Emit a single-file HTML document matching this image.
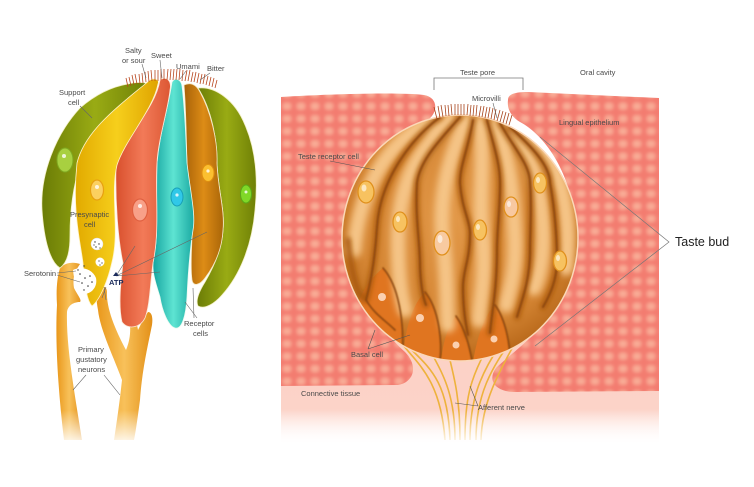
<!DOCTYPE html>
<html><head><meta charset="utf-8"><style>
html,body{margin:0;padding:0;background:#fff;width:754px;height:487px;overflow:hidden}
svg{display:block}
text{font-family:"Liberation Sans",sans-serif;fill:#4a4a4a;font-size:7.5px}
</style></head><body>
<svg width="754" height="487" viewBox="0 0 754 487" xmlns="http://www.w3.org/2000/svg">
<defs>
  <pattern id="tis" width="14" height="12.5" patternUnits="userSpaceOnUse">
    <rect width="14" height="12.5" fill="#f37b70"/>
    <rect x="2" y="2" width="10" height="8.5" rx="4" fill="#f79d8a"/>
    <rect x="4" y="3.8" width="6" height="5" rx="2.5" fill="#f9ad96"/>
  </pattern>
  <clipPath id="lblock"><path d="M281 97 C330 94 400 92 424 95 C436 97 438 108 432 116 C420 130 370 170 360 240 C355 290 380 330 405 352 C418 365 415 382 398 385 L281 386 Z"/></clipPath>
  <clipPath id="rblock"><path d="M508 100 C508 94 515 92 528 92 L659 98 L659 391 L515 392 C495 392 487 380 496 368 C520 345 565 320 575 250 C580 180 545 135 520 122 C510 116 507 108 508 100 Z"/></clipPath>
  <linearGradient id="conn" x1="0" y1="0" x2="0" y2="1">
    <stop offset="0" stop-color="#fcd0c4"/><stop offset="0.75" stop-color="#fcd3c8"/><stop offset="1" stop-color="#fff"/>
  </linearGradient>
  <linearGradient id="fade" x1="0" y1="0" x2="0" y2="1">
    <stop offset="0" stop-color="#fff" stop-opacity="0"/><stop offset="1" stop-color="#fff" stop-opacity="1"/>
  </linearGradient>
  <radialGradient id="bud" cx="0.5" cy="0.42" r="0.58">
    <stop offset="0" stop-color="#e29848"/><stop offset="0.75" stop-color="#d58634"/><stop offset="1" stop-color="#b8681a"/>
  </radialGradient>
  <clipPath id="budclip"><ellipse cx="460" cy="238" rx="118" ry="123"/></clipPath>
  <filter id="blur3" x="-20%" y="-20%" width="140%" height="140%"><feGaussianBlur stdDeviation="3.5"/></filter>
  <filter id="blur1" x="-20%" y="-20%" width="140%" height="140%"><feGaussianBlur stdDeviation="0.7"/></filter>
  <filter id="blur2" x="-20%" y="-20%" width="140%" height="140%"><feGaussianBlur stdDeviation="2.5"/></filter>
  <filter id="tblur" x="-5%" y="-5%" width="110%" height="110%"><feGaussianBlur stdDeviation="1.5"/></filter>
  <linearGradient id="gG" x1="0" y1="0" x2="1" y2="0">
    <stop offset="0" stop-color="#6b7c06"/><stop offset="0.5" stop-color="#99ab14"/><stop offset="1" stop-color="#6f8006"/>
  </linearGradient>
  <linearGradient id="gY" x1="0" y1="0" x2="1" y2="0">
    <stop offset="0" stop-color="#e2aa00"/><stop offset="0.5" stop-color="#f6cf1c"/><stop offset="1" stop-color="#dfa400"/>
  </linearGradient>
  <linearGradient id="gR" x1="0" y1="0" x2="1" y2="0">
    <stop offset="0" stop-color="#d9502d"/><stop offset="0.5" stop-color="#f27a58"/><stop offset="1" stop-color="#dc5733"/>
  </linearGradient>
  <linearGradient id="gT" x1="0" y1="0" x2="1" y2="0">
    <stop offset="0" stop-color="#15a4a0"/><stop offset="0.5" stop-color="#5ee4d2"/><stop offset="1" stop-color="#1aa9a2"/>
  </linearGradient>
  <linearGradient id="gB" x1="0" y1="0" x2="1" y2="0">
    <stop offset="0" stop-color="#a86208"/><stop offset="0.5" stop-color="#dd8c16"/><stop offset="1" stop-color="#a96508"/>
  </linearGradient>
  <linearGradient id="gN" x1="0" y1="0" x2="1" y2="0">
    <stop offset="0" stop-color="#e9971a"/><stop offset="0.5" stop-color="#f8c15a"/><stop offset="1" stop-color="#e39018"/>
  </linearGradient>
</defs>

<!-- ============ RIGHT PANEL ============ -->
<rect x="281" y="300" width="378" height="145" fill="url(#conn)"/>
<g clip-path="url(#lblock)"><rect x="275" y="88" width="170" height="305" fill="url(#tis)" filter="url(#tblur)"/></g>
<g clip-path="url(#rblock)"><rect x="480" y="86" width="185" height="312" fill="url(#tis)" filter="url(#tblur)"/></g>

<g stroke="#eeb23c" stroke-width="1.6" fill="none">
  <path d="M392 330 C410 360 440 370 445 440"/>
  <path d="M402 340 C425 365 448 375 450 440"/>
  <path d="M430 350 C440 370 455 390 455 440"/>
  <path d="M448 352 C455 380 460 400 460 440"/>
  <path d="M485 352 C470 380 465 400 465 440"/>
  <path d="M500 345 C480 375 470 400 470 440"/>
  <path d="M515 335 C490 370 476 395 476 440"/>
  <path d="M525 325 C500 370 482 400 481 440"/>
</g>

<ellipse cx="460" cy="238" rx="118" ry="123" fill="url(#bud)"/>
<g clip-path="url(#budclip)">
  <g fill="#e07520">
    <path d="M352 330 C355 300 368 280 383 268 C398 285 405 320 402 368 L352 368 Z"/>
    <path d="M402 368 C404 330 412 305 425 292 C440 310 442 345 440 368 Z"/>
    <path d="M440 368 C442 345 448 325 456 316 C466 330 470 350 472 368 Z"/>
    <path d="M472 368 C476 340 484 315 495 305 C506 320 510 345 510 368 Z"/>
  </g>
  <g stroke="#f5c486" stroke-width="15" fill="none" stroke-linecap="round" filter="url(#blur3)">
    <path d="M430 122 C395 137 360 180 354 250"/>
    <path d="M450 120 C420 150 398 180 398 240 C398 280 402 300 405 310"/>
    <path d="M466 122 C452 150 438 190 443 240 C448 280 446 315 448 325"/>
    <path d="M480 124 C485 160 478 200 483 240 C486 280 479 305 479 320"/>
    <path d="M494 126 C512 160 513 200 515 240 C516 275 508 295 506 305"/>
    <path d="M506 130 C530 150 541 180 543 230 C544 260 538 280 534 288"/>
    <path d="M524 132 C560 155 572 210 566 268"/>
  </g>
  <g stroke="#a85810" stroke-width="6" fill="none" stroke-linecap="round" filter="url(#blur2)" opacity="0.9">
    <path d="M440 117 C410 140 380 180 377 227 C375 260 370 285 366 300"/>
    <path d="M460 117 C440 140 420 160 417 183 C415 220 420 240 420 267 C421 290 424 300 426 305"/>
    <path d="M473 120 C468 150 460 165 460 183 C462 210 470 220 470 233 C470 260 463 270 463 287 C463 310 466 325 468 335"/>
    <path d="M487 120 C495 150 500 165 500 183 C500 210 497 230 497 250 C497 290 492 310 490 333"/>
    <path d="M500 123 C515 150 530 165 530 183 C532 210 530 230 530 250 C530 280 522 300 517 317"/>
    <path d="M510 127 C530 145 550 165 550 183 C555 210 557 240 557 260 C557 280 550 295 543 307"/>
    <path d="M348 240 C352 280 360 300 366 300"/>
  </g>
  <g stroke="#8a450a" stroke-width="1.6" fill="none" stroke-linecap="round" filter="url(#blur1)">
    <path d="M440 117 C410 140 380 180 377 227 C375 260 370 285 366 300"/>
    <path d="M460 117 C440 140 420 160 417 183 C415 220 420 240 420 267 C421 290 424 300 426 305"/>
    <path d="M473 120 C468 150 460 165 460 183 C462 210 470 220 470 233 C470 260 463 270 463 287 C463 310 466 325 468 335"/>
    <path d="M487 120 C495 150 500 165 500 183 C500 210 497 230 497 250 C497 290 492 310 490 333"/>
    <path d="M500 123 C515 150 530 165 530 183 C532 210 530 230 530 250 C530 280 522 300 517 317"/>
    <path d="M510 127 C530 145 550 165 550 183 C555 210 557 240 557 260 C557 280 550 295 543 307"/>
    <path d="M366 300 C375 315 385 320 395 330"/>
    <path d="M383 268 C398 285 405 320 402 360"/>
    <path d="M425 292 C440 310 442 345 440 360"/>
    <path d="M456 316 C466 330 470 350 472 360"/>
    <path d="M495 305 C506 320 510 345 510 360"/>
  </g>
  <g fill="#f7c260" stroke="#e0901c" stroke-width="1.3">
    <ellipse cx="366" cy="192" rx="8" ry="11"/>
    <ellipse cx="400" cy="222" rx="7" ry="10"/>
    <ellipse cx="442" cy="243" rx="8" ry="12" fill="#f8caa0"/>
    <ellipse cx="480" cy="230" rx="6.5" ry="10"/>
    <ellipse cx="511" cy="207" rx="7" ry="10" fill="#f8c8a0"/>
    <ellipse cx="540" cy="183" rx="6.5" ry="10"/>
    <ellipse cx="560" cy="261" rx="6.5" ry="10"/>
  </g>
  <g fill="#fff" opacity="0.6">
    <ellipse cx="364" cy="188" rx="2.5" ry="3.5"/><ellipse cx="398" cy="219" rx="2" ry="3"/><ellipse cx="440" cy="239" rx="2.5" ry="4"/>
    <ellipse cx="478" cy="227" rx="2" ry="3"/><ellipse cx="509" cy="204" rx="2" ry="3"/><ellipse cx="538" cy="180" rx="2" ry="3"/><ellipse cx="558" cy="258" rx="2" ry="3"/>
  </g>
  <g fill="#fbd0b0">
    <circle cx="382" cy="297" r="4"/><circle cx="420" cy="318" r="4"/>
    <circle cx="456" cy="345" r="3.5"/><circle cx="494" cy="339" r="3.5"/>
  </g>
</g>
<ellipse cx="460" cy="238" rx="118" ry="123" fill="none" stroke="#fbd8b8" stroke-width="1.5"/>

<path stroke="#a8441c" stroke-width="0.8" fill="none" d="M437 119 l-3 -12 M440 118 l-2 -12 M443 117 l-2 -12 M446 116 l-1 -11 M449 116 l-1 -11 M452 115 l-1 -11 M455 115 l0 -11 M458 115 l0 -11 M461 115 l0 -11 M464 115 l0 -11 M467 115 l1 -11 M470 116 l1 -11 M473 116 l1 -11 M476 116 l1 -11 M479 117 l2 -11 M482 117 l2 -11 M485 118 l2 -11 M488 118 l2 -11 M491 119 l2 -11 M494 120 l2 -11 M497 121 l3 -11 M500 122 l3 -11 M503 123 l3 -11 M506 124 l3 -11 M509 125 l3 -10"/>

<path d="M434 90 V78 H523 V90" stroke="#777" stroke-width="0.8" fill="none"/>
<text x="460" y="75">Teste pore</text>
<text x="580" y="75">Oral cavity</text>
<text x="472" y="101">Microvilli</text>
<path d="M493 103 L497 118" stroke="#666" stroke-width="0.6"/>
<text x="559" y="125">Lingual epithelium</text>
<text x="298" y="159">Teste receptor cell</text>
<path d="M330 161 L375 170" stroke="#555" stroke-width="0.6"/>
<text x="675" y="246" style="font-size:12.5px;fill:#222">Taste bud</text>
<path d="M540 137 L669 242 L535 346" stroke="#777" stroke-width="0.7" fill="none"/>
<text x="351" y="357">Basal cell</text>
<path d="M368 349 L375 330 M368 349 L410 335" stroke="#555" stroke-width="0.6" fill="none"/>
<text x="301" y="396">Connective tissue</text>
<text x="478" y="410">Afferent nerve</text>
<path d="M478 406 L455 403 M478 406 L470 386" stroke="#555" stroke-width="0.6" fill="none"/>

<!-- ============ LEFT PANEL ============ -->
<g fill="url(#gN)">
  <path d="M60 268 C66 262 74 262 80 264 C76 270 72 276 74 288 C78 296 82 300 80 302 C74 302 68 305 67 312 C66 345 74 390 82 440 L64 440 C58 390 55 340 57 305 C56 290 57 278 60 268 Z"/>
  <path d="M98 288 C102 285 107 286 107 292 C106 310 118 335 126 350 C130 340 132 330 128 310 C126 300 122 292 123 286 C126 283 130 284 130 290 C132 300 136 318 138 330 C142 322 145 316 148 312 C152 312 153 318 152 325 C148 345 142 370 140 400 C138 415 136 430 134 440 L114 440 C117 420 120 400 122 380 C115 360 100 330 98 310 C96 300 96 292 98 288 Z"/>
</g>

<path d="M128 84 C135 82 145 82 148 84 C125 105 95 130 80 165 C72 190 70 215 70 235 C70 250 68 262 60 268 C50 262 44 240 42 210 C40 175 55 135 80 108 C95 95 110 87 128 84 Z" fill="url(#gG)" stroke="#f4f0c8" stroke-width="0.8"/>
<path d="M198 88 C215 86 235 100 245 125 C256 150 258 180 255 210 C252 245 240 275 222 295 C215 303 205 310 198 306 C195 300 200 290 205 282 C212 270 222 250 223 230 C225 210 218 190 217 163 C217 140 212 110 198 88 Z" fill="url(#gG)" stroke="#f4f0c8" stroke-width="0.8"/>
<path d="M184 85 C190 82 196 84 200 92 C210 110 218 140 217 163 C218 190 225 210 223 230 C222 250 215 265 205 278 C200 285 193 287 192 280 C190 265 192 250 192 230 C190 200 187 180 187 163 C186 130 186 110 184 85 Z" fill="url(#gB)" stroke="#f4e8c8" stroke-width="0.8"/>
<path d="M172 82 C175 77 181 79 182 86 C185 110 186 140 187 163 C190 190 196 215 193 230 C190 250 188 275 187 297 C186 315 182 330 175 328 C168 326 162 310 160 297 C155 280 150 270 155 250 C158 230 156 200 157 163 C160 130 168 110 172 82 Z" fill="url(#gT)" stroke="#eafaf0" stroke-width="0.8"/>
<path d="M160 80 C166 76 172 80 170 90 C168 110 158 140 157 163 C155 195 160 230 153 263 C150 285 150 305 145 318 C140 328 128 330 122 322 C118 305 121 280 123 263 C118 240 115 200 116 165 C125 135 155 110 160 80 Z" fill="url(#gR)" stroke="#fbe8d8" stroke-width="0.8"/>
<path d="M150 80 C154 78 160 79 158 84 C153 110 125 140 117 165 C110 195 120 230 112 262 C108 280 100 300 92 306 C86 300 84 280 83 263 C80 240 72 210 77 163 C85 130 120 105 150 80 Z" fill="url(#gY)" stroke="#fff4c8" stroke-width="0.8"/>

<ellipse cx="65" cy="160" rx="8" ry="12" fill="#a8d040" stroke="#7fa820" stroke-width="1"/>
<ellipse cx="97" cy="190" rx="6.5" ry="10" fill="#fbd060" stroke="#e8a010" stroke-width="1.2"/>
<ellipse cx="140" cy="210" rx="7.5" ry="11" fill="#f8a088" stroke="#e06040" stroke-width="1.2"/>
<ellipse cx="177" cy="197" rx="6" ry="9" fill="#30c8e8" stroke="#18a0b8" stroke-width="1"/>
<ellipse cx="208" cy="173" rx="6" ry="8.5" fill="#fbc030" stroke="#e09010" stroke-width="1"/>
<ellipse cx="246" cy="194" rx="5.5" ry="9" fill="#80d828" stroke="#5aa818" stroke-width="1"/>
<g fill="#fff" opacity="0.8"><circle cx="97" cy="187" r="2"/><circle cx="140" cy="206" r="2"/><circle cx="177" cy="195" r="1.6"/><circle cx="208" cy="171" r="1.6"/><circle cx="246" cy="192" r="1.5"/><circle cx="64" cy="156" r="2"/></g>

<circle cx="97" cy="244" r="6" fill="#fff" stroke="#ddd" stroke-width="0.5"/>
<circle cx="100" cy="262" r="4.5" fill="#fff"/>
<path d="M73 270 C80 266 92 268 96 278 C98 288 90 295 82 294 C78 290 74 282 73 270 Z" fill="#fff"/>
<g fill="#333">
  <circle cx="95" cy="242" r="0.7"/><circle cx="99" cy="244" r="0.7"/><circle cx="96" cy="247" r="0.7"/><circle cx="100" cy="248" r="0.6"/><circle cx="94" cy="245" r="0.6"/>
  <circle cx="99" cy="261" r="0.6"/><circle cx="102" cy="263" r="0.6"/><circle cx="100" cy="265" r="0.6"/>
  <circle cx="80" cy="274" r="0.8"/><circle cx="85" cy="278" r="0.8"/><circle cx="90" cy="276" r="0.8"/><circle cx="82" cy="283" r="0.8"/><circle cx="88" cy="286" r="0.8"/><circle cx="92" cy="282" r="0.8"/><circle cx="84" cy="290" r="0.7"/><circle cx="78" cy="270" r="0.7"/><circle cx="84" cy="266" r="0.7"/>
</g>

<path stroke="#b8461e" stroke-width="0.8" fill="none" d="M128 87 l-2 -9 M131 86 l-2 -9 M134 85 l-2 -10 M137 84 l-2 -10 M140 84 l-1 -10 M143 83 l-1 -10 M146 82 l-1 -10 M149 82 l-1 -11 M152 81 l-1 -11 M155 81 l0 -11 M158 81 l0 -11 M161 80 l0 -11 M164 80 l0 -11 M167 80 l1 -11 M170 80 l1 -11 M173 80 l1 -11 M176 80 l1 -11 M179 80 l1 -11 M182 81 l1 -11 M185 81 l2 -11 M188 81 l2 -11 M191 82 l2 -10 M194 82 l2 -10 M197 83 l2 -10 M200 84 l2 -10 M203 84 l2 -10 M206 85 l2 -9 M209 86 l2 -9 M212 87 l2 -9 M215 88 l2 -8"/>

<text x="125" y="53">Salty</text>
<text x="122" y="63">or sour</text>
<text x="151" y="58">Sweet</text>
<text x="176" y="69">Umami</text>
<text x="207" y="71">Bitter</text>
<text x="59" y="95">Support</text>
<text x="68" y="105">cell</text>
<text x="70" y="217">Presynaptic</text>
<text x="84" y="227">cell</text>
<text x="24" y="276">Serotonin</text>
<text x="109" y="285" style="font-weight:bold;fill:#1a2a5a;font-size:7.5px">ATP</text>
<text x="78" y="352">Primary</text>
<text x="76" y="362">gustatory</text>
<text x="78" y="372">neurons</text>
<text x="184" y="326">Receptor</text>
<text x="193" y="336">cells</text>
<g stroke="#666" stroke-width="0.6" fill="none">
  <path d="M142 64 L146 78"/>
  <path d="M160 60 L162 78"/>
  <path d="M186 71 L180 79"/>
  <path d="M210 73 L200 80"/>
  <path d="M80 106 L92 118"/>
  <path d="M57 273 L76 271 M57 275 L80 282"/>
  <path d="M116 276 L135 246 M116 276 L207 232 M116 276 L160 272"/>
  <path d="M106 287 L102 298 M104 287 L106 300"/>
  <path d="M197 318 L185 302 M194 318 L193 288"/>
  <path d="M86 375 L73 390 M104 375 L120 395"/>
</g>
<path d="M113 276 l3 -4 l3 4 z" fill="#1a2a5a"/>

<rect x="0" y="410" width="754" height="36" fill="url(#fade)"/>
<rect x="0" y="445" width="754" height="42" fill="#fff"/>
</svg>
</body></html>
